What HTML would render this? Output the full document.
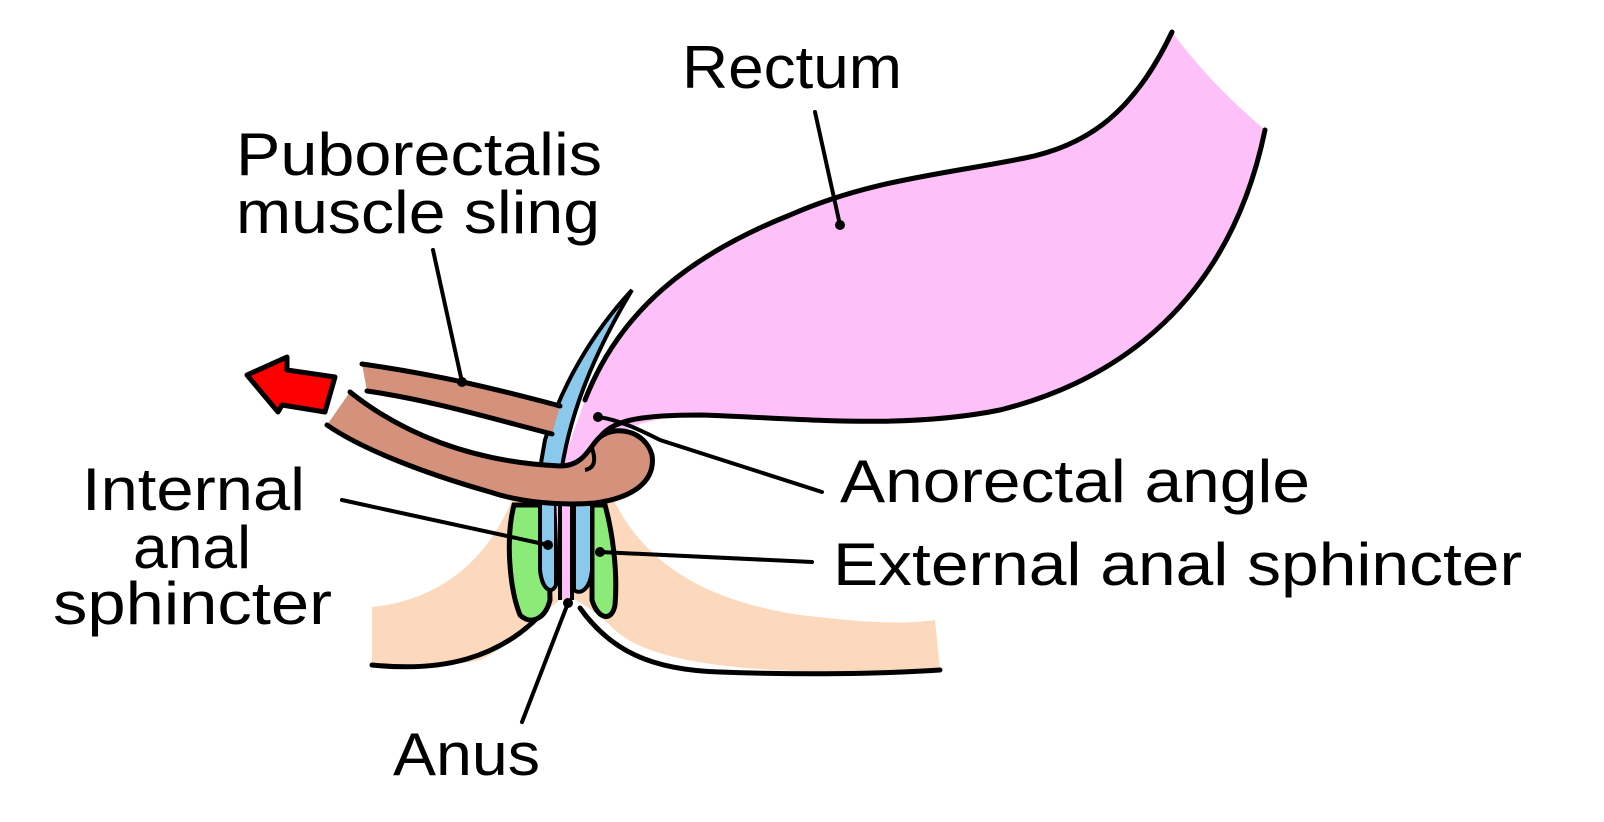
<!DOCTYPE html>
<html><head><meta charset="utf-8"><style>
html,body{margin:0;padding:0;background:#fff}
svg{display:block}
text{font-family:"Liberation Sans",sans-serif;font-size:60px;fill:#000}
</style></head><body>
<svg width="1604" height="822" viewBox="0 0 1604 822" xmlns="http://www.w3.org/2000/svg">
<!-- peach skin -->
<path d="M372,607 C440,600 490,560 515,492 L610,492 C640,560 700,600 800,615 C860,622 900,625 935,620 L940,670 C800,675 660,672 615,630 C600,615 585,605 575,600 L560,600 C545,610 520,640 480,660 C440,668 400,668 372,665 Z" fill="#fcd8bd"/>
<path d="M372,665 C440,672 500,660 545,610" fill="none" stroke="#000" stroke-width="5" stroke-linecap="round"/>
<path d="M580,608 C610,650 650,670 720,672 C800,675 880,674 940,670" fill="none" stroke="#000" stroke-width="5" stroke-linecap="round"/>
<!-- rectum -->
<path d="M1172,32 C1135,110 1090,145 1025,158 C940,175 870,180 790,215 C690,255 620,310 585,400 L560,470 L598,460 C610,430 640,418 700,415 C800,418 900,430 1000,410 C1120,380 1230,300 1265,130 C1230,100 1200,70 1172,32 Z" fill="#fdc0f9"/>
<path d="M1172,32 C1135,110 1090,145 1025,158 C940,175 870,180 790,215 C690,255 620,310 585,400" fill="none" stroke="#000" stroke-width="5" stroke-linecap="round"/>
<path d="M598,440 C610,420 640,415 700,415 C800,418 900,430 1000,410 C1120,380 1230,300 1265,130" fill="none" stroke="#000" stroke-width="5" stroke-linecap="round"/>
<!-- blue strip upper -->
<path d="M632,290 C590,335 560,390 545,440 L538,480 L560,480 C568,420 590,360 632,290 Z" fill="#8ac8ec" stroke="#000" stroke-width="4"/>
<!-- anal canal -->
<path d="M514,505 C505,540 510,590 520,615 C530,625 545,620 550,600 L548,505 Z" fill="#8ceb78" stroke="#000" stroke-width="5"/>
<path d="M592,505 L592,600 C598,620 612,622 615,605 C618,570 612,530 605,505 Z" fill="#8ceb78" stroke="#000" stroke-width="5"/>
<path d="M540,495 L540,570 C542,590 552,595 556,585 L556,495 Z" fill="#8ac8ec" stroke="#000" stroke-width="4"/>
<path d="M574,495 L574,590 C580,595 590,590 592,570 L592,495 Z" fill="#8ac8ec" stroke="#000" stroke-width="4"/>
<path d="M556,495 L574,495 L572,598 L560,598 Z" fill="#fdc0f9"/>
<line x1="560" y1="500" x2="560" y2="600" stroke="#000" stroke-width="4"/>
<line x1="572" y1="500" x2="572" y2="600" stroke="#000" stroke-width="4"/>
<!-- sling upper band -->
<path d="M362,364 C440,375 500,390 560,406 L552,434 C490,418 430,400 367,391 Z" fill="#d4917b"/>
<path d="M362,364 C440,375 500,390 560,406" fill="none" stroke="#000" stroke-width="5" stroke-linecap="round"/>
<path d="M367,391 C430,400 490,418 552,434" fill="none" stroke="#000" stroke-width="5" stroke-linecap="round"/>
<!-- sling lower loop -->
<path d="M350,392 C400,432 470,462 560,466 C585,466 590,445 600,437 C615,425 645,430 652,455 C656,482 632,498 595,503 C560,506 520,502 490,492 C420,472 360,448 327,425" fill="#d4917b" stroke="#000" stroke-width="5" stroke-linecap="round" stroke-linejoin="round"/>
<path d="M592,448 C596,460 595,468 585,470" fill="none" stroke="#000" stroke-width="4"/>
<!-- red arrow -->
<path d="M247,375 L287,357 L287,370 L335,377 L325,412 L282,405 L278,412 Z" fill="#ff0000" stroke="#000" stroke-width="5" stroke-linejoin="round"/>
<!-- leader lines -->
<g stroke="#000" stroke-width="4" stroke-linecap="round" fill="none">
<line x1="815" y1="112" x2="840" y2="225"/>
<line x1="433" y1="250" x2="462" y2="382"/>
<path d="M598,417 C620,420 640,430 660,440 L822,492"/>
<line x1="342" y1="500" x2="548" y2="545"/>
<line x1="600" y1="552" x2="812" y2="562"/>
<line x1="568" y1="603" x2="522" y2="722"/>
</g>
<g fill="#000">
<circle cx="840" cy="225" r="5"/><circle cx="462" cy="382" r="5"/><circle cx="598" cy="417" r="5"/>
<circle cx="548" cy="545" r="5"/><circle cx="600" cy="552" r="5"/><circle cx="568" cy="603" r="5"/>
</g>
<!-- labels -->
<text x="682" y="88" textLength="220" lengthAdjust="spacingAndGlyphs">Rectum</text>
<text x="236" y="175" textLength="366" lengthAdjust="spacingAndGlyphs">Puborectalis</text>
<text x="236" y="233" textLength="364" lengthAdjust="spacingAndGlyphs">muscle sling</text>
<text x="82" y="510" textLength="223" lengthAdjust="spacingAndGlyphs">Internal</text>
<text x="133" y="568" textLength="118" lengthAdjust="spacingAndGlyphs">anal</text>
<text x="53" y="624" textLength="279" lengthAdjust="spacingAndGlyphs">sphincter</text>
<text x="840" y="502" textLength="470" lengthAdjust="spacingAndGlyphs">Anorectal angle</text>
<text x="833" y="585" textLength="689" lengthAdjust="spacingAndGlyphs">External anal sphincter</text>
<text x="393" y="775" textLength="147" lengthAdjust="spacingAndGlyphs">Anus</text>
</svg>
</body></html>
